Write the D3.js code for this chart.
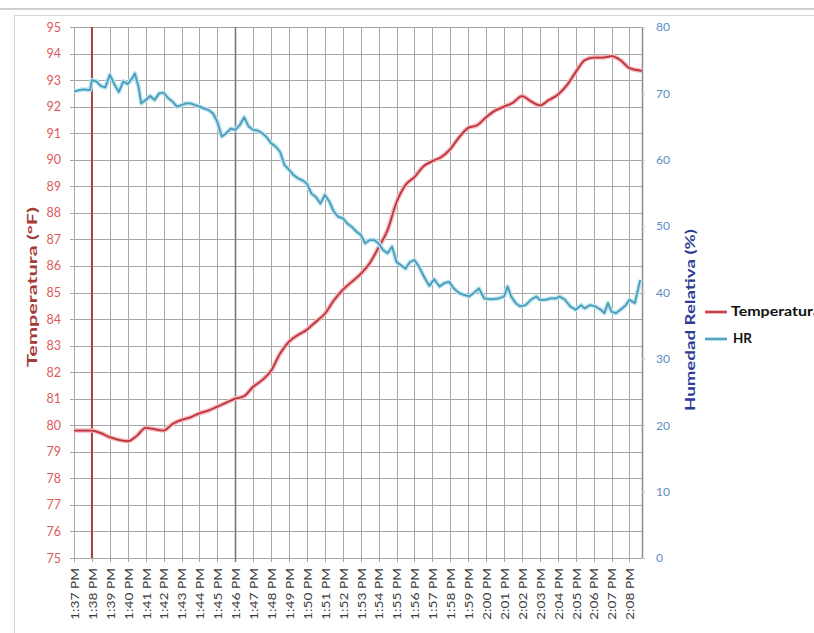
<!DOCTYPE html>
<html>
<head>
	<meta charset="utf-8">
	<title>Temperatura y HR</title>
	<script src="https://d3js.org/d3.v7.min.js"></script>
	<style>
		body { margin: 0; background: #fff; }
		text { font-family: Lato, "Liberation Sans", sans-serif; }
	</style>
</head>
<body>
	<div class="chart"></div>

	<script type="text/javascript">

		// etiquetas del eje X (un minuto cada una)
		const timeLabels = ['1:37 PM', '1:38 PM', '1:39 PM', '1:40 PM', '1:41 PM', '1:42 PM', '1:43 PM', '1:44 PM',
			'1:45 PM', '1:46 PM', '1:47 PM', '1:48 PM', '1:49 PM', '1:50 PM', '1:51 PM', '1:52 PM', '1:53 PM',
			'1:54 PM', '1:55 PM', '1:56 PM', '1:57 PM', '1:58 PM', '1:59 PM', '2:00 PM', '2:01 PM', '2:02 PM',
			'2:03 PM', '2:04 PM', '2:05 PM', '2:06 PM', '2:07 PM', '2:08 PM']

		const tempTicks = d3.range(75, 96, 1)
		const hrTicks = d3.range(0, 81, 10)

		// temperatura: [minutos desde 1:37 PM, °F]
		const tempData = [
			[0, 79.8], [1, 79.8], [1.5, 79.7], [2, 79.55], [2.5, 79.45], [3, 79.4], [3.5, 79.6], [4, 79.9],
			[4.5, 79.85], [5, 79.8], [5.5, 80.05], [6, 80.2], [6.5, 80.3], [7, 80.45], [7.5, 80.55], [8, 80.7],
			[8.5, 80.85], [9, 81.0], [9.5, 81.1], [10, 81.45], [10.5, 81.7], [11, 82.05], [11.5, 82.7], [12, 83.15],
			[12.5, 83.4], [13, 83.6], [13.5, 83.9], [14, 84.2], [14.5, 84.7], [15, 85.1], [15.5, 85.4], [16, 85.7],
			[16.5, 86.1], [17, 86.7], [17.5, 87.35], [18, 88.4], [18.5, 89.05], [19, 89.35], [19.5, 89.75],
			[20, 89.95], [20.5, 90.1], [21, 90.4], [21.5, 90.85], [22, 91.2], [22.5, 91.3], [23, 91.6], [23.5, 91.85],
			[24, 92.0], [24.5, 92.15], [25, 92.4], [25.5, 92.2], [26, 92.05], [26.5, 92.25], [27, 92.45], [27.5, 92.8],
			[28, 93.3], [28.5, 93.75], [29, 93.85], [29.5, 93.85], [30, 93.9], [30.5, 93.75], [31, 93.45], [31.7, 93.35]
		]

		// humedad relativa: [minutos desde 1:37 PM, %]
		const hrData = [
			[0, 70.3], [0.5, 70.6], [0.9, 70.5], [1, 72.0], [1.25, 71.8], [1.5, 71.1], [1.75, 70.9], [2, 72.8],
			[2.25, 71.4], [2.5, 70.2], [2.75, 71.8], [3, 71.4], [3.25, 72.3], [3.4, 73.0], [3.6, 71.0], [3.75, 68.5],
			[4, 69.0], [4.25, 69.6], [4.5, 69.0], [4.75, 70.0], [5, 70.1], [5.25, 69.3], [5.5, 68.75], [5.75, 68.0],
			[6, 68.25], [6.25, 68.5], [6.5, 68.5], [6.75, 68.25], [7, 68.0], [7.25, 67.75], [7.5, 67.5], [7.75, 67.0],
			[8, 65.7], [8.25, 63.5], [8.5, 64.0], [8.75, 64.7], [9, 64.5], [9.25, 65.2], [9.5, 66.4], [9.75, 65.0],
			[10, 64.5], [10.25, 64.4], [10.5, 64.0], [10.75, 63.4], [11, 62.5], [11.25, 62.0], [11.5, 61.2],
			[11.75, 59.2], [12, 58.5], [12.25, 57.7], [12.5, 57.2], [12.75, 56.9], [13, 56.4], [13.25, 54.9],
			[13.5, 54.4], [13.75, 53.4], [14, 54.7], [14.25, 53.7], [14.5, 52.2], [14.75, 51.4], [15, 51.2],
			[15.25, 50.4], [15.5, 49.9], [15.75, 49.2], [16, 48.7], [16.25, 47.4], [16.5, 47.9], [16.75, 47.9],
			[17, 47.4], [17.25, 46.4], [17.5, 45.9], [17.75, 46.9], [18, 44.6], [18.25, 44.1], [18.5, 43.6],
			[18.75, 44.6], [19, 44.9], [19.25, 43.9], [19.55, 42.3], [19.83, 41.0], [20.1, 42.0], [20.4, 40.9],
			[20.66, 41.4], [20.94, 41.6], [21.2, 40.6], [21.5, 39.9], [21.8, 39.6], [22.05, 39.4], [22.3, 39.9],
			[22.6, 40.6], [22.9, 39.1], [23.2, 39.0], [23.4, 39.0], [23.7, 39.1], [24.0, 39.4], [24.2, 40.9],
			[24.4, 39.4], [24.65, 38.4], [24.9, 37.9], [25.2, 38.1], [25.5, 38.9], [25.8, 39.4], [26.0, 38.9],
			[26.3, 38.9], [26.6, 39.1], [26.9, 39.1], [27.1, 39.4], [27.4, 38.9], [27.7, 37.9], [28.0, 37.4],
			[28.3, 38.1], [28.5, 37.6], [28.8, 38.1], [29.1, 37.9], [29.4, 37.4], [29.6, 36.9], [29.8, 38.4],
			[30.0, 37.1], [30.25, 36.9], [30.5, 37.4], [30.8, 38.1], [31.0, 38.9], [31.3, 38.4], [31.6, 41.9]
		]

		var width = 814
		var height = 633
		var plot = { left: 74, right: 642, top: 27, bottom: 558 }

		var svg = d3
			.select('.chart')
			.append('svg')
			.attr('width', width)
			.attr('height', height)

		// marco exterior
		svg.append('line')
			.attr('x1', 0).attr('x2', width).attr('y1', 9).attr('y2', 9)
			.attr('stroke', '#cfcfcf').attr('stroke-width', 2)
		svg.append('rect')
			.attr('x', 14.5).attr('y', 15.5).attr('width', width).attr('height', height)
			.attr('fill', '#fff').attr('stroke', '#d4d4d4')

		/**
		 * escalas
		 */
		const x = d3.scaleLinear().domain([0, 31.7]).range([plot.left, plot.right])
		const yT = d3.scaleLinear().domain([75, 95]).range([plot.bottom, plot.top])
		const yH = d3.scaleLinear().domain([0, 80]).range([plot.bottom, plot.top])

		/**
		 * cuadrícula
		 */
		const grid = svg.append('g').attr('class', 'grid')
		grid.selectAll('.hgrid')
			.data(tempTicks)
			.enter()
			.append('line')
			.attr('x1', plot.left - 4)
			.attr('x2', plot.right)
			.attr('y1', (d) => Math.round(yT(d)) + 0.5)
			.attr('y2', (d) => Math.round(yT(d)) + 0.5)
			.attr('stroke', '#a6a6a6')

		grid.selectAll('.vgrid')
			.data(timeLabels)
			.enter()
			.append('line')
			.attr('x1', (d, i) => Math.round(x(i)) + 0.5)
			.attr('x2', (d, i) => Math.round(x(i)) + 0.5)
			.attr('y1', plot.top)
			.attr('y2', plot.bottom + 4)
			.attr('stroke', (d, i) => (i === 9 ? '#7a7a7a' : '#a6a6a6'))
			.attr('stroke-width', (d, i) => (i === 9 ? 1.6 : 1))

		// borde derecho del área
		grid.append('line')
			.attr('x1', plot.right + 0.5).attr('x2', plot.right + 0.5)
			.attr('y1', plot.top).attr('y2', plot.bottom)
			.attr('stroke', '#8c8c8c').attr('stroke-width', 1.5)

		// marca vertical roja en 1:38
		svg.append('line')
			.attr('x1', x(1)).attr('x2', x(1))
			.attr('y1', plot.top).attr('y2', plot.bottom)
			.attr('stroke', '#a8413c').attr('stroke-width', 2)

		/**
		 * ejes
		 */
		const axisL = svg.append('g')
			.attr('transform', `translate(${plot.left - 13}, 0)`)
			.call(d3.axisLeft(yT).tickValues(tempTicks).tickSize(0).tickPadding(0))
		axisL.select('.domain').remove()
		axisL.selectAll('text')
			.attr('fill', '#dc5a5a')
			.style('font-size', '12.5px')

		const axisR = svg.append('g')
			.attr('transform', `translate(${plot.right}, 0)`)
			.call(d3.axisRight(yH).tickValues(hrTicks).tickSize(3).tickPadding(11))
		axisR.select('.domain').remove()
		axisR.selectAll('line').attr('stroke', '#c8c8c8')
		axisR.selectAll('text')
			.attr('fill', '#5b8cc4')
			.style('font-size', '12px')

		// etiquetas de tiempo giradas
		svg.append('g')
			.selectAll('text')
			.data(timeLabels)
			.enter()
			.append('text')
			.attr('transform', (d, i) => `translate(${x(i) + 1}, 568) rotate(-90)`)
			.attr('text-anchor', 'end')
			.attr('dy', '0.35em')
			.attr('textLength', 52)
			.attr('lengthAdjust', 'spacingAndGlyphs')
			.attr('fill', '#3a3a3a')
			.style('font-size', '11px')
			.text((d) => d)

		// títulos de ejes
		svg.append('text')
			.attr('transform', `translate(37, 287) rotate(-90)`)
			.attr('text-anchor', 'middle')
			.attr('textLength', 160)
			.attr('lengthAdjust', 'spacingAndGlyphs')
			.attr('fill', '#a33b36')
			.style('font-size', '13.5px')
			.style('font-weight', 'bold')
			.text('Temperatura (°F)')

		svg.append('text')
			.attr('transform', `translate(695, 320) rotate(-90)`)
			.attr('text-anchor', 'middle')
			.attr('textLength', 182)
			.attr('lengthAdjust', 'spacingAndGlyphs')
			.attr('fill', '#2b3b96')
			.style('font-size', '13.5px')
			.style('font-weight', 'bold')
			.text('Humedad Relativa (%)')

		/**
		 * líneas
		 */
		const tempLine = d3.line()
			.x((d) => x(d[0]))
			.y((d) => yT(d[1]))
			.curve(d3.curveMonotoneX)

		const hrLine = d3.line()
			.x((d) => x(d[0]))
			.y((d) => yH(d[1]))

		const series = [
			{ name: 'Temperatura', data: tempData, line: tempLine, color: '#bb3540', glow: '#f5b5b8', w: 90 },
			{ name: 'HR', data: hrData, line: hrLine, color: '#4a9cb8', glow: '#b9e3f1', w: 19 }
		]

		const lines = svg.append('g').selectAll('g').data(series).enter().append('g')
		lines.append('path')
			.attr('fill', 'none')
			.attr('stroke', (d) => d.glow)
			.attr('stroke-width', 4.5)
			.attr('stroke-linejoin', 'round')
			.attr('d', (d) => d.line(d.data))
		lines.append('path')
			.attr('fill', 'none')
			.attr('stroke', (d) => d.color)
			.attr('stroke-width', 1.8)
			.attr('stroke-linejoin', 'round')
			.attr('d', (d) => d.line(d.data))

		/**
		 * leyenda
		 */
		const legend = svg.append('g')
			.selectAll('g')
			.data(series)
			.enter()
			.append('g')
			.attr('transform', (d, i) => `translate(705, ${312 + i * 27})`)
		legend.append('line')
			.attr('x1', 0).attr('x2', 22)
			.attr('stroke', (d) => d.glow).attr('stroke-width', 4)
		legend.append('line')
			.attr('x1', 0).attr('x2', 22)
			.attr('stroke', (d) => d.color).attr('stroke-width', 1.8)
		legend.append('text')
			.attr('x', (d, i) => (i === 0 ? 26 : 28))
			.attr('dy', '0.35em')
			.attr('textLength', (d) => d.w)
			.attr('lengthAdjust', 'spacingAndGlyphs')
			.attr('fill', '#111')
			.style('font-size', '12.5px')
			.style('font-weight', 'bold')
			.text((d) => d.name)

	</script>
</body>
</html>
